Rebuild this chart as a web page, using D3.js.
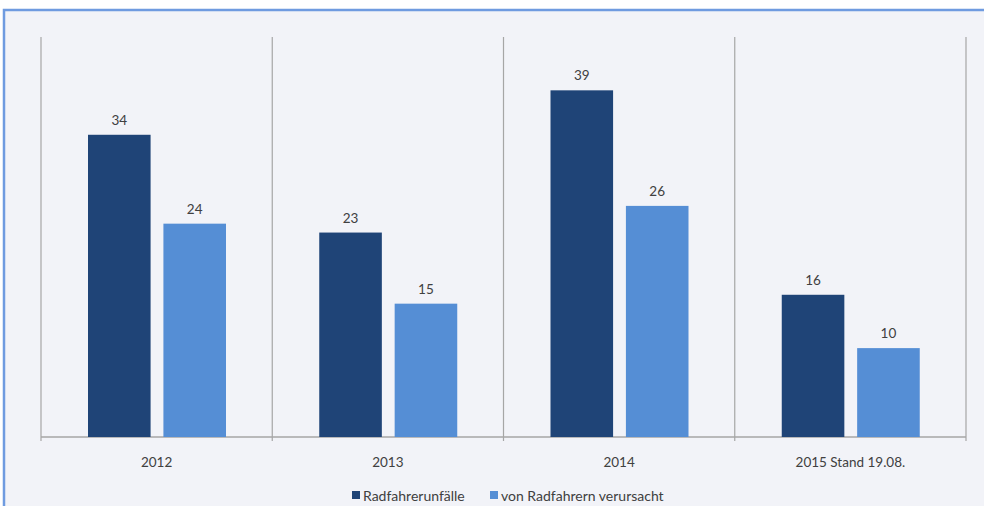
<!DOCTYPE html>
<meta charset="utf-8">
<style>
    body { margin: 0; background: #fff; }
    text { font-family: Lato, "Open Sans", sans-serif; fill: #404040; }
</style>
<svg width="984" height="506"></svg>
<script src="https://cdn.jsdelivr.net/npm/d3@7"></script>
<script>

    // data
    var years = ["2012", "2013", "2014", "2015 Stand 19.08."];
    var series = ["Radfahrerunfälle", "von Radfahrern verursacht"];
    var unfaelle = [34, 23, 39, 16];
    var verursacht = [24, 15, 26, 10];
    var colors = ["#1f4477", "#558ed5"];

    var svg = d3.select("svg");

    // panel with the blue frame
    svg.append("rect")
            .attr("x", 4).attr("y", 10)
            .attr("width", 990).attr("height", 510)
            .attr("fill", "#f2f3f8")
            .attr("stroke", "#6f9be0")
            .attr("stroke-width", 2.5);

    var x = d3.scaleBand().domain(years).range([41, 966]);
    var inner = d3.scaleBand().domain(series).range([47, 185]).paddingInner(0.17);
    var y = d3.scaleLinear().domain([0, 45]).range([437, 37]);

    // separators between categories
    svg.append("g").selectAll("line")
            .data(years.concat(["end"]))
            .join("line")
            .attr("x1", function (d, i) { return 41 + i * x.bandwidth(); })
            .attr("x2", function (d, i) { return 41 + i * x.bandwidth(); })
            .attr("y1", 37).attr("y2", 441)
            .attr("stroke", "#a6a6a6").attr("stroke-width", 1.2);

    // baseline
    svg.append("line")
            .attr("x1", 41).attr("x2", 966)
            .attr("y1", y(0)).attr("y2", y(0))
            .attr("stroke", "#a6a6a6").attr("stroke-width", 1.5);

    var rows = years.map(function (d, i) {
        return [{s: series[0], v: unfaelle[i], c: colors[0]},
            {s: series[1], v: verursacht[i], c: colors[1]}];
    });

    var g = svg.append("g").selectAll("g")
            .data(rows)
            .join("g")
            .attr("transform", function (d, i) { return "translate(" + x(years[i]) + ",0)"; });

    g.selectAll("rect")
            .data(function (d) { return d; })
            .join("rect")
            .attr("x", function (d) { return inner(d.s); })
            .attr("y", function (d) { return y(d.v); })
            .attr("width", inner.bandwidth())
            .attr("height", function (d) { return y(0) - y(d.v); })
            .attr("fill", function (d) { return d.c; });

    g.selectAll("text")
            .data(function (d) { return d; })
            .join("text")
            .attr("x", function (d) { return inner(d.s) + inner.bandwidth() / 2; })
            .attr("y", function (d) { return y(d.v) - 10; })
            .attr("text-anchor", "middle")
            .attr("font-size", 13.5)
            .text(function (d) { return d.v; });

    // category labels
    svg.append("g").selectAll("text")
            .data(years)
            .join("text")
            .attr("x", function (d) { return x(d) + x.bandwidth() / 2; })
            .attr("y", 467)
            .attr("text-anchor", "middle")
            .attr("font-size", 13.5)
            .text(function (d) { return d; });

    // legend
    var legendX = [352, 490];
    var lg = svg.append("g").selectAll("g")
            .data(series)
            .join("g")
            .attr("transform", function (d, i) { return "translate(" + legendX[i] + ",491)"; });
    lg.append("rect")
            .attr("width", 8).attr("height", 8)
            .attr("fill", function (d, i) { return colors[i]; });
    lg.append("text")
            .attr("x", 11).attr("y", 10)
            .attr("font-size", 14)
            .text(function (d) { return d; });

</script>
